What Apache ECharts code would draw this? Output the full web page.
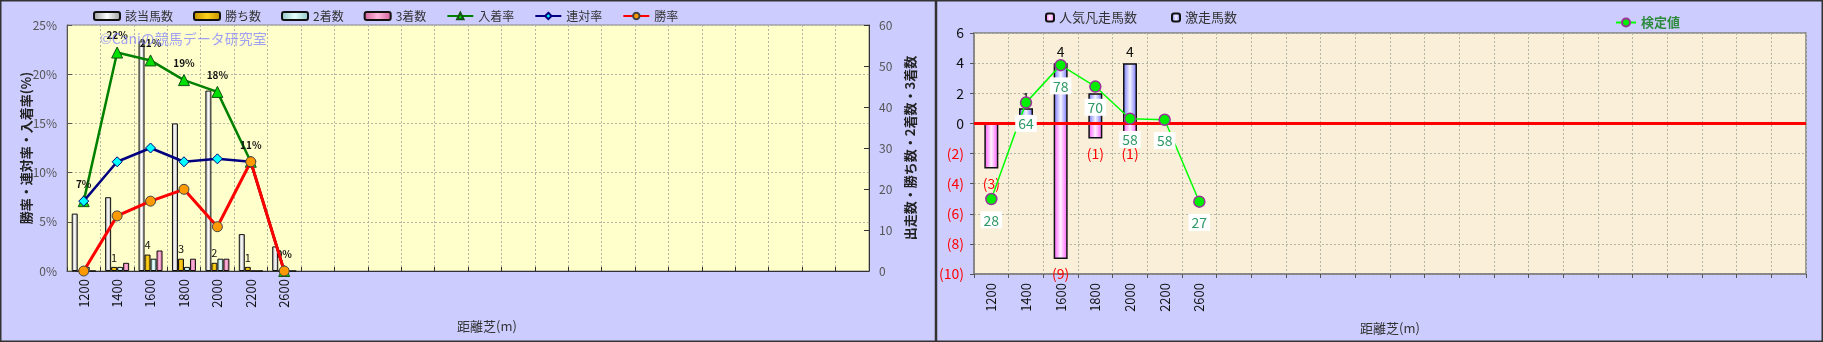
<!DOCTYPE html>
<html><head><meta charset="utf-8">
<script src="https://cdn.jsdelivr.net/npm/echarts@6/dist/echarts.min.js"></script>
<style>html,body{margin:0;padding:0;background:#CCCCFF}#c{width:1823px;height:342px}</style>
</head><body><div id="c"></div>
<script>
// ---- data ----
const distances = ['1200','1400','1600','1800','2000','2200','2600'];
const runners   = [14,18,56,36,44,9,6];
const wins      = [0,1,4,3,2,1,0];
const seconds   = [1,1,3,1,3,0,0];
const thirds    = [0,2,5,3,3,0,0];
const placeRate    = [7.1,22.2,21.4,19.4,18.2,11.1,0];
const quinellaRate = [7.1,11.1,12.5,11.1,11.4,11.1,0];
const winRate      = [0,5.6,7.1,8.3,4.5,11.1,0];
const upsetCount = [0,1,4,2,4,0,0];
const flopCount  = [-3,0,-9,-1,-1,0,0];
const testValue  = [28,64,78,70,58,57.6,27];
const upsetLabelVisible = [false,true,true,false,true,false,false];

const slots = 24;
const cats = Array.from({length: slots}, (_, i) => i < distances.length ? distances[i] : '_' + i);
const catFmt = v => (v.charAt(0) === '_' ? '' : v);
const FONT = '"Noto Sans CJK JP", "Noto Sans", sans-serif';

function grad(edge, mid) {
  return new echarts.graphic.LinearGradient(0, 0, 1, 0, [
    {offset: 0, color: edge}, {offset: 0.5, color: mid}, {offset: 1, color: edge}]);
}

const chart = echarts.init(document.getElementById('c'), null, {renderer: 'canvas'});

const gridLine = {show: true, lineStyle: {color: '#b4b4a4', type: [2, 2], width: 1}};

const option = {
  animation: false,
  backgroundColor: '#CCCCFF',
  textStyle: {fontFamily: FONT},
  grid: [
    {left: 67, top: 25, width: 802, height: 246, show: true, backgroundColor: '#FFFFCC', borderColor: '#888', borderWidth: 1, outerBoundsMode: 'none', containLabel: false},
    {left: 974, top: 33, width: 832, height: 241, show: true, backgroundColor: '#FAF0DA', borderColor: '#808080', borderWidth: 1.5, outerBoundsMode: 'none', containLabel: false}
  ],
  legend: [
    {data: ['該当馬数','勝ち数','2着数','3着数','入着率','連対率','勝率'], left: 93, top: 10, padding: 0,
     itemWidth: 26, itemHeight: 8, itemGap: 20, textStyle: {fontSize: 12, color: '#333', fontFamily: FONT}},
    {data: ['人気凡走馬数','激走馬数'], left: 1045, top: 11, padding: 0, itemWidth: 8, itemHeight: 8, itemGap: 34,
     textStyle: {fontSize: 13, color: '#333', fontFamily: FONT}},
    {data: ['検定値'], left: 1615, top: 16, padding: 0, itemWidth: 20, itemHeight: 10,
     textStyle: {fontSize: 13, color: '#2E8B3E', fontWeight: 'bold', fontFamily: FONT}}
  ],
  xAxis: [
    {type: 'category', gridIndex: 0, data: cats, boundaryGap: true,
     axisLine: {lineStyle: {color: '#333', width: 1}},
     axisTick: {show: true, inside: true, length: 4, lineStyle: {color: '#333'}},
     axisLabel: {interval: 0, rotate: 90, formatter: catFmt, color: '#111', fontSize: 13, margin: 8, fontFamily: FONT},
     splitLine: Object.assign({interval: 0}, gridLine),
     name: '距離芝(m)', nameLocation: 'middle', nameGap: 49, nameMoveOverlap: false,
     nameTextStyle: {fontSize: 13, color: '#333', padding: [0, 0, 0, 38], fontFamily: FONT}},
    {type: 'category', gridIndex: 1, data: cats, boundaryGap: true,
     axisLine: {onZero: false, lineStyle: {color: '#808080', width: 1.5}},
     axisTick: {show: true, inside: false, length: 4, lineStyle: {color: '#555'}},
     axisLabel: {interval: 0, rotate: 90, formatter: catFmt, color: '#111', fontSize: 13, margin: 9, fontFamily: FONT},
     splitLine: Object.assign({interval: 0}, gridLine),
     name: '距離芝(m)', nameLocation: 'middle', nameGap: 48, nameMoveOverlap: false,
     nameTextStyle: {fontSize: 13, color: '#333', fontFamily: FONT}}
  ],
  yAxis: [
    {type: 'value', gridIndex: 0, min: 0, max: 25, interval: 5, position: 'left',
     axisLine: {show: true, lineStyle: {color: '#555'}},
     axisTick: {show: true, inside: true, length: 5, lineStyle: {color: '#555'}},
     axisLabel: {formatter: '{value}%', color: '#555', fontSize: 12, margin: 10, fontFamily: FONT},
     splitLine: gridLine,
     name: '勝率・連対率・入着率(%)', nameLocation: 'middle', nameRotate: 90, nameGap: 34, nameMoveOverlap: false,
     nameTextStyle: {fontSize: 13, fontWeight: 'bold', color: '#222', fontFamily: FONT}},
    {type: 'value', gridIndex: 0, min: 0, max: 60, interval: 10, position: 'right',
     axisLine: {show: true, lineStyle: {color: '#333'}},
     axisTick: {show: true, inside: true, length: 5, lineStyle: {color: '#333'}},
     axisLabel: {color: '#555', fontSize: 12, margin: 10, fontFamily: FONT},
     splitLine: {show: false},
     name: '出走数・勝ち数・2着数・3着数', nameLocation: 'middle', nameRotate: 90, nameGap: 35, nameMoveOverlap: false,
     nameTextStyle: {fontSize: 13, fontWeight: 'bold', color: '#222', fontFamily: FONT}},
    {type: 'value', gridIndex: 1, min: -10, max: 6, interval: 2,
     axisLine: {show: true, lineStyle: {color: '#808080', width: 1.5}},
     axisTick: {show: true, inside: false, length: 4, lineStyle: {color: '#555'}},
     axisLabel: {fontSize: 14, margin: 10, fontFamily: FONT,
       formatter: v => v < 0 ? '(' + (-v) + ')' : String(v),
       color: v => (Number(v) < 0 ? '#FF0000' : '#111')},
     splitLine: gridLine},
    {type: 'value', gridIndex: 1, min: 0, max: 90, show: false, splitLine: {show: false}}
  ],
  graphic: [
    {type: 'text', left: 100, top: 32, z: 50, silent: true,
     style: {text: '©Caniの競馬データ研究室', fill: 'rgba(130,130,255,0.75)', font: '14px ' + FONT}},
    {type: 'rect', shape: {x: 0.75, y: 0.75, width: 1821.5, height: 340.5}, z: 100, silent: true,
     style: {fill: 'none', stroke: '#333', lineWidth: 1.5}},
    {type: 'line', shape: {x1: 936, y1: 0, x2: 936, y2: 342}, z: 100, silent: true,
     style: {stroke: '#333', lineWidth: 2.5}}
  ],
  series: [
    {name: '該当馬数', type: 'bar', xAxisIndex: 0, yAxisIndex: 1, data: runners, barWidth: 6, barGap: '0%',
     itemStyle: {color: grad('#9a9a9a', '#ffffff'), borderColor: '#111', borderWidth: 1}},
    {name: '勝ち数', type: 'bar', xAxisIndex: 0, yAxisIndex: 1, data: wins, barWidth: 6, barGap: '0%',
     itemStyle: {color: grad('#C08C00', '#FFD21A'), borderColor: '#111', borderWidth: 1},
     label: {show: true, position: 'top', distance: 4, fontSize: 11, color: '#111', fontFamily: FONT,
       formatter: p => p.value > 0 ? String(p.value) : ''}},
    {name: '2着数', type: 'bar', xAxisIndex: 0, yAxisIndex: 1, data: seconds, barWidth: 6, barGap: '0%',
     itemStyle: {color: grad('#8FC4C4', '#E6FFFF'), borderColor: '#111', borderWidth: 1}},
    {name: '3着数', type: 'bar', xAxisIndex: 0, yAxisIndex: 1, data: thirds, barWidth: 6, barGap: '0%',
     itemStyle: {color: grad('#D0609A', '#FFB8DC'), borderColor: '#111', borderWidth: 1}},
    {name: '入着率', type: 'line', xAxisIndex: 0, yAxisIndex: 0, data: placeRate, z: 3,
     lineStyle: {color: '#008000', width: 2.5}, itemStyle: {color: '#00E000', borderColor: '#145214', borderWidth: 1},
     symbol: 'triangle', symbolSize: 11,
     label: {show: true, position: 'top', distance: 6, fontSize: 10, fontWeight: 'bold', color: '#111', fontFamily: FONT,
       formatter: p => Math.round(p.value) + '%'}},
    {name: '連対率', type: 'line', xAxisIndex: 0, yAxisIndex: 0, data: quinellaRate, z: 4,
     lineStyle: {color: '#000080', width: 2.5}, itemStyle: {color: '#00FFFF', borderColor: '#000080', borderWidth: 1},
     symbol: 'diamond', symbolSize: 10},
    {name: '勝率', type: 'line', xAxisIndex: 0, yAxisIndex: 0, data: winRate, z: 5,
     lineStyle: {color: '#FF0000', width: 3}, itemStyle: {color: '#FF9900', borderColor: '#444', borderWidth: 1},
     symbol: 'circle', symbolSize: 10},

    {name: '人気凡走馬数', type: 'bar', xAxisIndex: 1, yAxisIndex: 2, data: flopCount, barWidth: 14, barGap: '-100%',
     itemStyle: {color: grad('#FF55FF', '#FFF0FF'), borderColor: '#111', borderWidth: 1.5},
     label: {show: true, position: 'bottom', distance: 8, fontSize: 14, color: '#FF0000', fontFamily: FONT,
       formatter: p => p.value < 0 ? '(' + (-p.value) + ')' : ''},
     markLine: {silent: true, symbol: 'none', label: {show: false},
       lineStyle: {color: '#FF0000', width: 3, type: 'solid'}, data: [{yAxis: 0}]}},
    {name: '激走馬数', type: 'bar', xAxisIndex: 1, yAxisIndex: 2, data: upsetCount, barWidth: 14, barGap: '-100%',
     itemStyle: {color: grad('#7070FF', '#F4F4FF'), borderColor: '#111', borderWidth: 1.5},
     label: {show: true, position: 'top', distance: 4, fontSize: 14, color: '#111', fontFamily: FONT,
       formatter: p => (p.value > 0 && upsetLabelVisible[p.dataIndex]) ? String(p.value) : ''}},
    {name: '検定値', type: 'line', xAxisIndex: 1, yAxisIndex: 3, data: testValue, z: 6,
     lineStyle: {color: '#00FF00', width: 1.5}, itemStyle: {color: '#00EE00', borderColor: '#993399', borderWidth: 1.5},
     symbol: 'circle', symbolSize: 11,
     label: {show: true, position: 'bottom', distance: 6, fontSize: 14, color: '#2E9966', fontFamily: FONT,
       backgroundColor: '#FFFFFF', padding: [2, 3, 1, 3], formatter: p => String(Math.round(p.value))}}
  ]
};
chart.setOption(option);
</script></body></html>
